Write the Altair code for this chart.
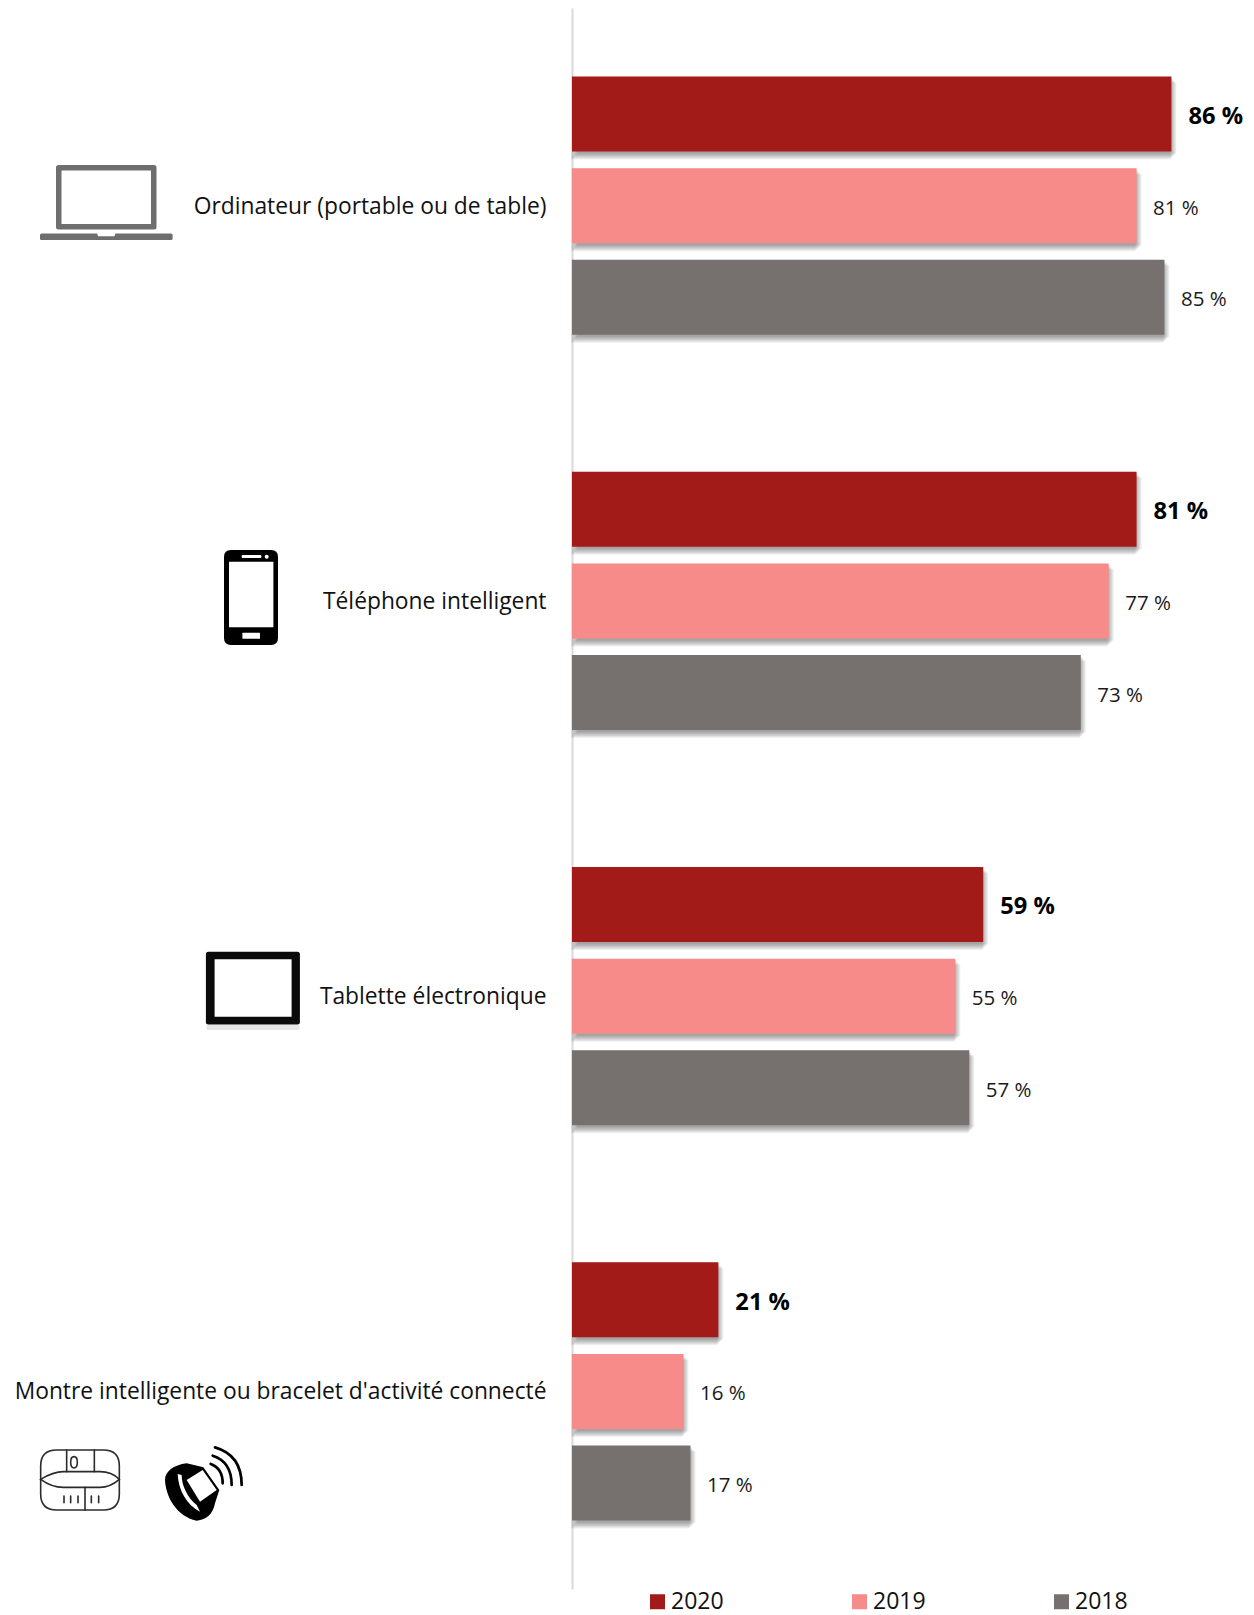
import altair as alt
import pandas as pd

categories = ["Ordinateur (portable ou de table)", "Téléphone intelligent",
              "Tablette électronique", "Montre intelligente ou bracelet d'activité connecté"]
years = ["2020", "2019", "2018"]
values_2020 = [86, 81, 59, 21]
values_2019 = [81, 77, 55, 16]
values_2018 = [85, 73, 57, 17]
colors = ["#a21b18", "#f68b8a", "#76716f"]

FONT = "Open Sans"
PX_PER_UNIT = 6.97
W, H = 674, 1581
STEP = 91.7       # vertical distance between the bars of a group
BAR_H = 75
BAND = H / len(categories)

rows = []
for rank, (year, vals) in enumerate(zip(years, [values_2020, values_2019, values_2018])):
    for cat, v in zip(categories, vals):
        rows.append({"cat": cat, "year": year, "value": v, "label": f"{v} %",
                     "off": BAND / 2 + (rank - 1) * STEP})
df = pd.DataFrame(rows)

x_enc = alt.X("value:Q", scale=alt.Scale(domain=[0, W / PX_PER_UNIT], nice=False, zero=True), axis=None)
y_enc = alt.Y("cat:N", sort=categories, title=None,
              scale=alt.Scale(paddingInner=0, paddingOuter=0),
              axis=alt.Axis(ticks=False, domainColor="#d9d9d9", domainWidth=2, grid=False,
                            labelFont=FONT, labelFontSize=22.8, labelColor="#111111",
                            labelPadding=26, labelLimit=600, labelOffset=1, title=None))
yo_scale = alt.Scale(domain=[0, 400], range=[0, 400])


def yo(field):
    return alt.YOffset(f"{field}:Q", scale=yo_scale)


base = alt.Chart(df).encode(y=y_enc)

shadows = []
for s in [4, 3, 2, 1, 0, -1, -2]:
    shadows.append(
        base.transform_calculate(off_s="datum.off + 4")
        .mark_bar(color="#000000", opacity=0.06, size=BAR_H + 2 * s,
                  xOffset=3 - s, x2Offset=3 + s)
        .encode(x=x_enc, yOffset=yo("off_s"))
    )

bars = base.mark_bar(size=BAR_H).encode(
    x=x_enc,
    yOffset=yo("off"),
    color=alt.Color("year:N", sort=years,
                    scale=alt.Scale(domain=years, range=colors),
                    legend=alt.Legend(orient="none", legendX=74, legendY=1582, direction="horizontal",
                                      columns=3, columnPadding=124, title=None, symbolType="square",
                                      symbolSize=225, symbolStrokeWidth=0, symbolOpacity=1,
                                      labelFont=FONT, labelFontSize=23, labelColor="#111111",
                                      labelOffset=2, padding=0)),
)

labels_bold = base.transform_filter(alt.datum.year == "2020").mark_text(
    align="left", baseline="middle", dx=17, dy=3, font=FONT, fontSize=23.7, fontWeight="bold", color="#000000"
).encode(x=x_enc, yOffset=yo("off"), text="label:N")
labels_norm = base.transform_filter(alt.datum.year != "2020").mark_text(
    align="left", baseline="middle", dx=16.5, dy=3, font=FONT, fontSize=20.5, color="#1a1a1a"
).encode(x=x_enc, yOffset=yo("off"), text="label:N")

# ---- pictograms: symbol paths; placed at page origin (scale=1 px per path unit)
one = alt.Data(values=[{"k": 1}])
PX0, PY0 = 572, 8


def part(path, fill=None, stroke=None, sw=0, unit=1.0, ox=0, oy=0):
    kw = dict(shape=path, size=4 * unit * unit, opacity=1)
    if fill:
        kw.update(filled=True, fill=fill)
    else:
        kw.update(filled=False, fill="transparent")
    if stroke:
        kw.update(stroke=stroke, strokeWidth=sw, strokeCap="round")
    else:
        kw.update(strokeWidth=0)
    return alt.Chart(one).mark_point(**kw).encode(x=alt.value(ox - PX0), y=alt.value(oy - PY0))


def rrect(x0, y0, x1, y1, r):
    return (f"M {x0+r} {y0} L {x1-r} {y0} Q {x1} {y0} {x1} {y0+r} L {x1} {y1-r} Q {x1} {y1} {x1-r} {y1} "
            f"L {x0+r} {y1} Q {x0} {y1} {x0} {y1-r} L {x0} {y0+r} Q {x0} {y0} {x0+r} {y0} Z")


grey = "#6e6e6e"
icons = [
    # laptop
    part(rrect(56, 165, 156.5, 229.5, 2.5), fill=grey),
    part(rrect(61.5, 170.5, 151, 224, 0.5), fill="#ffffff"),
    part(rrect(40, 233.5, 172.6, 240, 1.5), fill=grey),
    part("M 97 233 L 115.6 233 L 114.5 236.3 L 98 236.3 Z", fill="#ffffff"),
    # phone
    part(rrect(224, 550, 278, 645, 7), fill="#000000"),
    part(rrect(229, 561.7, 273.4, 627.3, 0.3), fill="#ffffff"),
    part(rrect(241.7, 555, 261.4, 558, 1), fill="#ffffff"),
    part(rrect(264.7, 554.7, 268.7, 558.7, 2), fill="#ffffff"),
    part(rrect(242.4, 632.7, 260, 638.7, 0.5), fill="#ffffff"),
    # tablet
    part(rrect(206.6, 1025, 299.6, 1030, 1), fill="#e6e6e6"),
    part(rrect(205.9, 951.7, 299.9, 1024.5, 2.5), fill="#0a0a0a"),
    part(rrect(214.6, 959.3, 291.6, 1016.7, 0.3), fill="#ffffff"),
]

# wearable icons are written in 3x units from a local origin
u = 1 / 3
band_kw = dict(stroke="#2b2b2b", sw=1.6, unit=u, ox=0, oy=1370)
icons += [
    part(rrect(122, 240, 358, 420, 48), **band_kw),
    part("M 122 328 Q 160 305 190 305 L 300 305 Q 335 305 358 328 Q 330 352 300 352 L 190 352 Q 155 352 122 328 Z", **band_kw),
    part("M 200 240 L 200 305", **band_kw),
    part("M 283 240 L 283 305", **band_kw),
    part("M 255 352 L 255 420", **band_kw),
    part("M 192 378 L 192 398 M 212 378 L 212 398 M 234 378 L 234 398 M 274 378 L 274 398 M 296 378 L 296 398", **band_kw),
    part("M 222 260 Q 232 260 232 277 Q 232 294 222 294 Q 212 294 212 277 Q 212 260 222 260 Z", **band_kw),
]
watch_kw = dict(unit=u, ox=0, oy=1370)
icons += [
    part("M 560 280 C 520 285 495 305 495 330 C 497 380 530 440 590 452 C 620 450 640 430 645 400 L 658 360 L 610 292 Z",
         fill="#000000", **watch_kw),
    part("M 533 312 C 535 360 560 405 600 425 L 590 405 C 565 385 545 350 545 315 Z", fill="#ffffff", **watch_kw),
    part("M 608 300 L 650 360 L 600 395 L 560 330 Z", fill="#ffffff", **watch_kw),
    part("M 645 232 Q 725 255 725 345", stroke="#000000", sw=2.7, **watch_kw),
    part("M 638 257 Q 695 275 695 345", stroke="#000000", sw=2.7, **watch_kw),
    part("M 632 282 Q 668 295 668 340", stroke="#000000", sw=2.7, **watch_kw),
]

chart = alt.layer(*shadows, bars, labels_bold, labels_norm, *icons).properties(
    width=W, height=H,
    padding={"left": PX0 - 8, "top": 0, "right": 0, "bottom": 26},
    autosize=alt.AutoSizeParams(type="none"),
    background="#ffffff",
).configure_view(stroke=None)

chart.save("out.html", embed_options={"renderer": "svg", "actions": False})
